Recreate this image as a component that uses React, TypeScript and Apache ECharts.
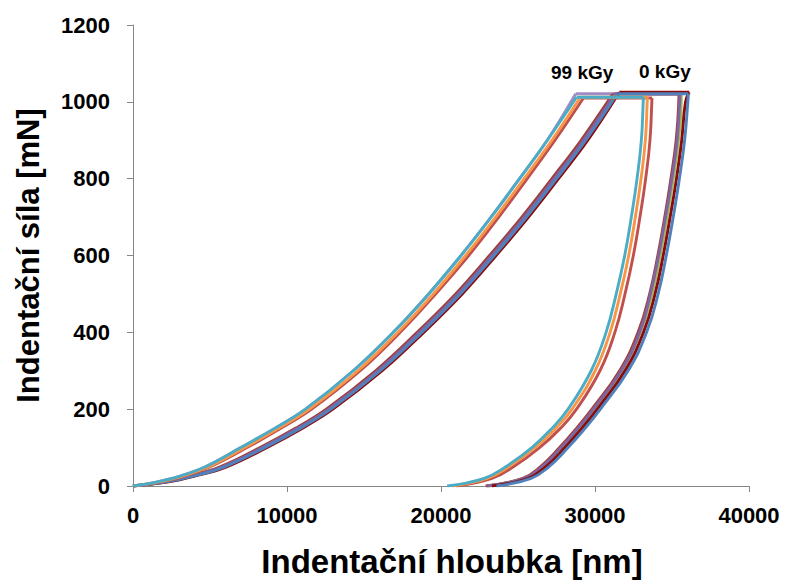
import React, { useEffect, useRef } from "react";
import * as echarts from "echarts";

// Force levels (mN) at which the loading and unloading depths were read
const LOAD_LEVELS = [0, 10, 25, 50, 100, 150, 200, 300, 400, 500, 600, 700, 800, 900];
const UNLOAD_LEVELS = [1000, 900, 800, 700, 600, 500, 400, 300, 200, 150, 100, 50, 20, 0];

const X_TICKS = [0, 10000, 20000, 30000, 40000];
const Y_TICKS = [0, 200, 400, 600, 800, 1000, 1200];

// 99 kGy curves (depth in nm)
const lavenderLoad = [0, 1500, 3000, 4700, 7000, 9200, 11200, 14300, 16900, 19200, 21300, 23250, 25100, 26900];
const lavenderPeak = [28750, 1021];
const lavenderHoldEnd = 35500;
const lavenderUnload = [35480, 35330, 34990, 34580, 34130, 33600, 32900, 31700, 29900, 28900, 27800, 26550, 25400, 23000];

const cyanLoad = [0, 1500, 3000, 4700, 7000, 9200, 11200, 14300, 16900, 19200, 21300, 23250, 25100, 26900];
const cyanPeak = [28800, 1012];
const cyanHoldEnd = 33140;
const cyanUnload = [33130, 33010, 32730, 32360, 31930, 31380, 30720, 29750, 28250, 27200, 25900, 24200, 22800, 20400];

const orangeLoad = [0, 1600, 3150, 4900, 7250, 9450, 11450, 14600, 17200, 19500, 21600, 23550, 25400, 27200];
const orangePeak = [29050, 1012];
const orangeHoldEnd = 33400;
const orangeUnload = [33390, 33270, 32990, 32620, 32190, 31640, 30980, 30010, 28510, 27450, 26100, 24400, 23000, 20700];

const redLoad = [0, 1700, 3300, 5000, 7400, 9600, 11600, 14750, 17350, 19650, 21800, 23750, 25600, 27400];
const redPeak = [29250, 1010];
const redHoldEnd = 33700;
const redUnload = [33690, 33570, 33290, 32920, 32490, 31950, 31290, 30320, 28800, 27750, 26400, 24700, 23300, 21000];

// 0 kGy curves
const brownLoad = [0, 1900, 3550, 5650, 8250, 10550, 12550, 15750, 18450, 20950, 23150, 25250, 27200, 29100];
const brownPeak = [31150, 1020];
const brownHoldEnd = 35450;
const brownUnload = [35440, 35270, 34930, 34530, 34080, 33550, 32800, 31600, 29800, 28800, 27700, 26450, 25300, 22900];

const purpleLoad = [0, 2000, 3700, 5800, 8400, 10700, 12700, 15900, 18600, 21100, 23300, 25400, 27350, 29250];
const purplePeak = [31300, 1021];
const purpleHoldEnd = 35520;
const purpleUnload = [35500, 35330, 34990, 34580, 34130, 33600, 32900, 31700, 29900, 28900, 27800, 26550, 25400, 23000];

const greenLoad = [0, 2050, 3780, 5880, 8480, 10780, 12780, 15980, 18680, 21180, 23380, 25480, 27430, 29330];
const greenPeak = [31380, 1022];
const greenHoldEnd = 35600;
const greenUnload = [35600, 35420, 35080, 34680, 34230, 33700, 32950, 31750, 29950, 28950, 27850, 26600, 25450, 23100];

const blueLoad = [0, 2100, 3850, 5950, 8550, 10850, 12850, 16050, 18750, 21250, 23450, 25550, 27500, 29400];
const bluePeak = [31450, 1021];
const blueHoldEnd = 36060;
const blueUnload = [36030, 35820, 35480, 35080, 34630, 34100, 33350, 32150, 30350, 29350, 28250, 27000, 25850, 23600];

const darkRedLoad = [0, 2200, 3950, 6080, 8680, 10980, 12980, 16180, 18880, 21380, 23580, 25680, 27630, 29530];
const darkRedPeak = [31580, 1025];
const darkRedHoldEnd = 36120;
const darkRedUnload = [35880, 35630, 35290, 34880, 34430, 33900, 33150, 31950, 30150, 29150, 28050, 26800, 25650, 23300];

const CURVES = [
  { name: "99 kGy c", color: "#A08CC4", load: lavenderLoad, peak: lavenderPeak, holdEnd: lavenderHoldEnd, unload: lavenderUnload },
  { name: "0 kGy a", color: "#9E3F3B", load: brownLoad, peak: brownPeak, holdEnd: brownHoldEnd, unload: brownUnload },
  { name: "0 kGy b", color: "#9BBB59", load: greenLoad, peak: greenPeak, holdEnd: greenHoldEnd, unload: greenUnload },
  { name: "0 kGy c", color: "#8064A2", load: purpleLoad, peak: purplePeak, holdEnd: purpleHoldEnd, unload: purpleUnload },
  { name: "0 kGy d", color: "#8B0A0A", load: darkRedLoad, peak: darkRedPeak, holdEnd: darkRedHoldEnd, unload: darkRedUnload },
  { name: "0 kGy e", color: "#4F81BD", load: blueLoad, peak: bluePeak, holdEnd: blueHoldEnd, unload: blueUnload },
  { name: "99 kGy a", color: "#C0504D", load: redLoad, peak: redPeak, holdEnd: redHoldEnd, unload: redUnload },
  { name: "99 kGy b", color: "#F79646", load: orangeLoad, peak: orangePeak, holdEnd: orangeHoldEnd, unload: orangeUnload },
  { name: "99 kGy d", color: "#4BACC6", load: cyanLoad, peak: cyanPeak, holdEnd: cyanHoldEnd, unload: cyanUnload },
];

const FONT = "'Liberation Sans', Arial, sans-serif";

export default function App() {
  const ref = useRef<HTMLDivElement>(null);

  useEffect(() => {
    if (!ref.current) return;
    const chart = echarts.init(ref.current, undefined, { renderer: "svg" });

    const series: any[] = [];
    CURVES.forEach((c) => {
      const loading = LOAD_LEVELS.map((f, i) => [c.load[i], f]);
      loading.push([c.peak[0], c.peak[1]]);
      const hold = [
        [c.peak[0], c.peak[1]],
        [c.holdEnd, c.peak[1]],
      ];
      const unloading: number[][] = [[c.holdEnd, c.peak[1]]];
      UNLOAD_LEVELS.forEach((f, i) => unloading.push([c.unload[i], f]));
      const base = {
        type: "line",
        showSymbol: false,
        symbol: "none",
        lineStyle: { color: c.color, width: 2.9 },
        itemStyle: { color: c.color },
        silent: true,
      };
      series.push({ ...base, name: c.name + " load", data: loading, smooth: 0.4 });
      series.push({ ...base, name: c.name + " hold", data: hold });
      series.push({ ...base, name: c.name + " unload", data: unloading, smooth: 0.45 });
    });

    const axisLine = { show: true, lineStyle: { color: "#868686", width: 1 } };
    const axisTick = { show: true, inside: false, length: 6, lineStyle: { color: "#868686" } };
    const plain = (v: number) => String(v);

    chart.setOption({
      animation: false,
      backgroundColor: "#ffffff",
      grid: { left: 133, right: 36, top: 25, bottom: 96, containLabel: false, outerBoundsMode: "none" },
      xAxis: {
        type: "value",
        min: X_TICKS[0],
        max: X_TICKS[X_TICKS.length - 1],
        interval: X_TICKS[1] - X_TICKS[0],
        axisLine,
        axisTick,
        splitLine: { show: false },
        axisLabel: { color: "#000", fontSize: 22, fontWeight: "bold", fontFamily: FONT, margin: 18, formatter: plain },
        name: "Indentační hloubka [nm]",
        nameLocation: "middle",
        nameGap: 59,
        nameTextStyle: { color: "#000", fontSize: 33, fontWeight: "bold", fontFamily: FONT, padding: [0, 0, 0, 22] },
      },
      yAxis: {
        type: "value",
        min: Y_TICKS[0],
        max: Y_TICKS[Y_TICKS.length - 1],
        interval: Y_TICKS[1] - Y_TICKS[0],
        axisLine,
        axisTick,
        splitLine: { show: false },
        axisLabel: { color: "#000", fontSize: 22, fontWeight: "bold", fontFamily: FONT, margin: 23, formatter: plain },
        name: "Indentační síla [mN]",
        nameLocation: "middle",
        nameRotate: 90,
        nameGap: 89,
        nameTextStyle: { color: "#000", fontSize: 31, fontWeight: "bold", fontFamily: FONT },
      },
      graphic: [
        {
          type: "text",
          left: 551,
          top: 63,
          style: { text: "99 kGy", fill: "#000", font: `bold 19px ${FONT}` },
          silent: true,
        },
        {
          type: "text",
          left: 639,
          top: 62,
          style: { text: "0 kGy", fill: "#000", font: `bold 19px ${FONT}` },
          silent: true,
        },
      ],
      series,
    });

    return () => chart.dispose();
  }, []);

  return (
    <div
      ref={ref}
      style={{ position: "fixed", left: 0, top: 0, width: 785, height: 582, background: "#fff" }}
    />
  );
}
